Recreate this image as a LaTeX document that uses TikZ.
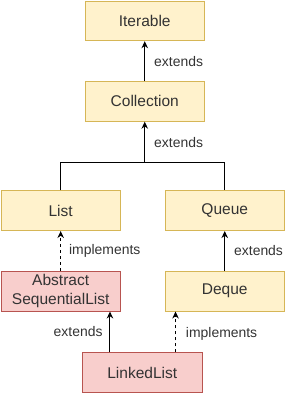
\documentclass[tikz,border=0pt]{standalone}
\usepackage{fontspec}
\setmainfont{Liberation Sans}
\usetikzlibrary{arrows.meta,positioning}
\definecolor{ifill}{HTML}{FFF2CC}
\definecolor{iline}{HTML}{D6B656}
\definecolor{cfill}{HTML}{F8CECC}
\definecolor{cline}{HTML}{B85450}
\definecolor{txt}{HTML}{333333}
\begin{document}
\begin{tikzpicture}[
  font=\fontsize{14}{16}\selectfont, text=txt,
  box/.style={draw=iline, fill=ifill, line width=0.9pt, minimum width=120pt, minimum height=40pt,
    inner sep=0pt, align=center, font=\fontsize{15.6}{18.5}\selectfont},
  cls/.style={box, draw=cline, fill=cfill},
  ext/.style={-{Stealth[length=7pt,width=6.5pt]}, line width=1pt},
  impl/.style={ext, dashed},
  lbl/.style={inner sep=0pt}
]
% interfaces
\node[box] (iter) {Iterable};
\node[box, below=40pt of iter] (coll) {Collection};
\node[box, below=69pt of coll, xshift=-84.5pt] (list) {List};
\node[box, right=44pt of list] (queue) {Queue};
\node[box, below=40pt of queue] (deque) {Deque};

% classes
\node[cls, below=40pt of list] (asl) {Abstract\\SequentialList};
\node[cls, below=41pt of asl, xshift=82pt] (ll) {LinkedList};

\useasboundingbox ([shift={(-145.5pt,21pt)}]iter.center) rectangle ([shift={(141.5pt,-372pt)}]iter.center);

% inheritance
\draw[ext] (coll) -- node[lbl, right=9pt] {extends} (iter);
\coordinate[below=41pt of coll.south] (split);
\draw[line width=1pt] (list.north) |- (split) -| (queue.north);
\draw[ext] (split) -- node[lbl, right=9pt] {extends} (coll.south);
\draw[impl] (asl) -- node[lbl, right=8pt] {implements} (list);
\draw[ext] (deque) -- node[lbl, right=9pt] {extends} (queue);
\draw[ext] ([xshift=28pt]ll.north west) -- node[lbl, left=7pt] {extends} ([xshift=28pt]ll.north west |- asl.south);
\draw[impl] ([xshift=-27pt]ll.north east) -- node[lbl, right=10pt, yshift=-2pt] {implements} ([xshift=-27pt]ll.north east |- deque.south);
\end{tikzpicture}
\end{document}
